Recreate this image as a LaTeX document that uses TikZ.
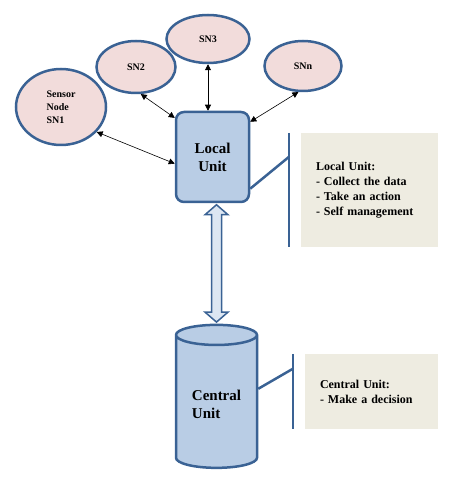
\documentclass[tikz,border=0pt]{standalone}
\usepackage{fontspec}
\setmainfont{Liberation Serif}
\usetikzlibrary{arrows.meta,positioning,shapes.geometric,calc}
\definecolor{edgeblue}{RGB}{58,98,148}
\definecolor{sensorpink}{RGB}{242,220,219}
\definecolor{unitfill}{RGB}{185,205,229}
\definecolor{unittop}{RGB}{220,230,242}
\definecolor{notefill}{RGB}{238,236,225}

\begin{document}
\begin{tikzpicture}[x=1pt, y=1pt,
  sensor/.style={ellipse, draw=edgeblue, line width=2.5pt, fill=sensorpink, inner sep=0pt, font=\fontsize{10}{13}\selectfont\bfseries},
  unit/.style={draw=edgeblue, line width=2.5pt, fill=unitfill, font=\fontsize{15}{18}\selectfont\bfseries, align=center},
  note/.style={fill=notefill, align=left, inner xsep=15pt, font=\fontsize{12}{15}\selectfont\bfseries},
  bracket/.style={draw=edgeblue, line width=2.5pt},
  link/.style={{Triangle[length=6pt,width=6pt]}-{Triangle[length=6pt,width=6pt]}, line width=0.6pt},
  bigarrow/.style={draw=edgeblue, line width=1.5pt, fill=unittop}
]
\useasboundingbox (0,0) rectangle (459,480);
\node [unit, rounded corners=8pt, minimum width=73pt, minimum height=90pt] (local) at (212.5,323) {Local\\Unit};
\node [sensor, minimum width=90pt, minimum height=76pt, align=left] (sn1) at (61,373) {Sensor\\Node\\SN1};
\node [sensor, minimum width=79pt, minimum height=52pt] (sn2) at (136,413) {SN2};
\node [sensor, minimum width=83pt, minimum height=48pt] (sn3) at (208,441) {SN3};
\node [sensor, minimum width=77pt, minimum height=50pt] (snn) at (303,414) {SNn};
\node [unit, cylinder, shape border rotate=90, aspect=0.36, minimum width=81pt, minimum height=143pt,
  cylinder uses custom fill, cylinder body fill=unitfill, cylinder end fill=unittop, align=left] (central) at (216.5,76) {Central\\Unit};

\node [note, text width=107pt, minimum height=114pt] (localnote) at (369.5,290) {Local Unit:\\- Collect the data\\- Take an action\\- Self management\\[4pt]};
\node [note, text width=103pt, minimum height=75pt] (centralnote) at (371.5,88.5) {Central Unit:\\- Make a decision};

\coordinate [left=12pt of localnote.north west] (lbtop);
\coordinate [left=12pt of localnote.south west] (lbbot);
\coordinate [left=12pt of centralnote.north west] (cbtop);
\coordinate [left=12pt of centralnote.south west] (cbbot);
\draw [bracket] (lbtop) -- (lbbot);
\draw [bracket] (local.-40) -- (lbtop |- local.east);
\draw [bracket] (cbtop) -- (cbbot);
\draw [bracket] (central.20) -- ($(cbtop)+(0,-15)$);

\draw [link] (sn1.-35) -- (local.190);
\draw [link] (sn2.-80) -- (local.134);
\draw [link] (sn3.south) -- (sn3.south |- local.north);
\draw [link] (snn.-100) -- (local.43);

\draw [bigarrow] let \p1=(local.south), \p2=(central.north) in
  (\x2,\y1-1.5) -- ++(11.5,-10) -- ++(-6.5,0) -- (\x2+5,\y2+11.5) -- ++(6.5,0) -- (\x2,\y2+1.5)
  -- ++(-11.5,10) -- ++(6.5,0) -- (\x2-5,\y1-11.5) -- ++(-6.5,0) -- cycle;
\end{tikzpicture}
\end{document}
